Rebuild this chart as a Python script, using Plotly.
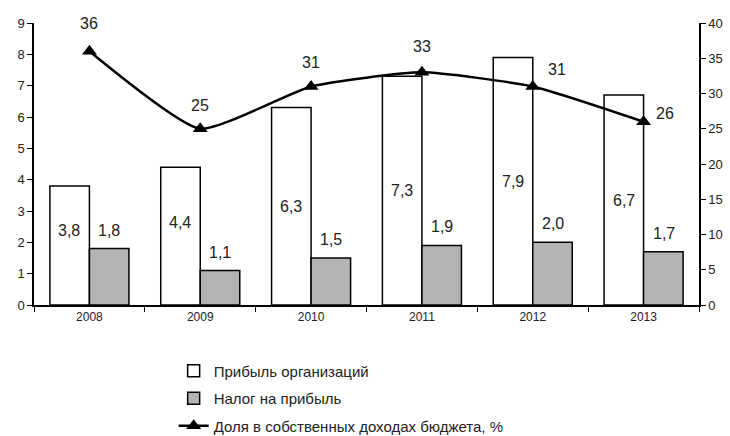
import plotly.graph_objects as go

years = ["2008", "2009", "2010", "2011", "2012", "2013"]
profit = [3.8, 4.4, 6.3, 7.3, 7.9, 6.7]
tax = [1.8, 1.1, 1.5, 1.9, 2.0, 1.7]
share = [36, 25, 31, 33, 31, 26]

profit_labels = [f"{v:.1f}".replace(".", ",") for v in profit]
tax_labels = [f"{v:.1f}".replace(".", ",") for v in tax]
share_labels = [str(v) for v in share]
# label offsets (px)
profit_yshift = [15, 14, 0, 0, 0, 0]
share_xshift = [0, 0, 0, 0, 13, 10]
share_yshift = [17, 13, 13, 15, 6, -2]

FONT = "Liberation Sans, Arial, sans-serif"
TXT = "#222"

fig = go.Figure()
fig.add_trace(go.Bar(
    x=years, y=profit, name="Прибыль организаций",
    marker=dict(color="white", line=dict(color="black", width=1.5)),
    legendgroup="a", cliponaxis=False,
))
fig.add_trace(go.Bar(
    x=years, y=tax, name="Налог на прибыль",
    marker=dict(color="#b3b3b3", line=dict(color="black", width=1.5)),
    legendgroup="b", cliponaxis=False,
))
fig.add_trace(go.Scatter(
    x=years, y=share, name="Доля в собственных доходах бюджета, %",
    yaxis="y2", mode="lines+markers",
    line=dict(color="black", width=2.5, shape="spline", smoothing=0.5),
    marker=dict(symbol="triangle-up", size=13, color="black"),
    legendgroup="c", cliponaxis=False,
))

annotations = []
for i, (v, t, dy) in enumerate(zip(profit, profit_labels, profit_yshift)):
    annotations.append(dict(
        x=i, y=v / 2, xref="x", yref="y", text=t, showarrow=False,
        xanchor="center", yanchor="middle", xshift=-20, yshift=dy,
        font=dict(size=16, color=TXT, family=FONT),
    ))
for i, (v, t) in enumerate(zip(tax, tax_labels)):
    annotations.append(dict(
        x=i, y=v, xref="x", yref="y", text=t, showarrow=False,
        xanchor="center", yanchor="bottom", xshift=20, yshift=8,
        font=dict(size=16, color=TXT, family=FONT),
    ))
for i, (v, t, dx, dy) in enumerate(zip(share, share_labels, share_xshift, share_yshift)):
    annotations.append(dict(
        x=i, y=v, xref="x", yref="y2", text=t, showarrow=False,
        xanchor="center" if dx == 0 else "left", yanchor="bottom",
        xshift=dx, yshift=dy,
        font=dict(size=16, color=TXT, family=FONT),
    ))

fig.update_layout(
    width=730, height=436,
    margin=dict(l=34, r=31, t=23, b=131, autoexpand=False),
    paper_bgcolor="white", plot_bgcolor="white",
    font=dict(family=FONT, color=TXT),
    barmode="group", bargap=0.287, bargroupgap=0,
    showlegend=True,
    annotations=annotations,
    legend=dict(
        orientation="v", x=0.21, xanchor="left",
        yref="container", y=0.187, yanchor="top",
        font=dict(size=15, color=TXT, family=FONT),
        tracegroupgap=5, traceorder="grouped",
        bgcolor="rgba(0,0,0,0)",
    ),
    xaxis=dict(
        type="category", categoryorder="array", categoryarray=years,
        range=[-0.5, len(years) - 0.5],
        showline=True, linecolor="black", linewidth=1.5,
        ticks="outside", ticklen=5, tickcolor="black", tickson="boundaries",
        tickfont=dict(size=12, color=TXT), tickangle=0,
        showgrid=False, zeroline=False,
    ),
    yaxis=dict(
        range=[0, 9], dtick=1, showline=True, linecolor="black", linewidth=1.5,
        ticks="outside", ticklen=5, tickcolor="black",
        tickfont=dict(size=13, color=TXT),
        showgrid=False, zeroline=False,
    ),
    yaxis2=dict(
        range=[0, 40], dtick=5, overlaying="y", side="right",
        showline=True, linecolor="black", linewidth=1.5,
        ticks="outside", ticklen=5, tickcolor="black",
        tickfont=dict(size=13, color=TXT),
        showgrid=False, zeroline=False,
    ),
)

fig.write_html("out.html", config={"displayModeBar": False},
               post_script="document.body.style.margin='0';")
